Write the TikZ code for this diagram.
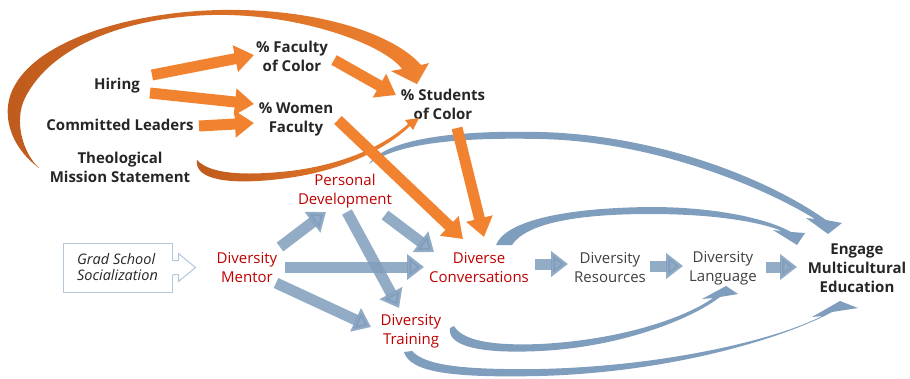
\documentclass[tikz,border=0pt]{standalone}
\usepackage{fontspec}
\setmainfont{Open Sans}
\usetikzlibrary{arrows.meta,calc}

\definecolor{orangearr}{RGB}{240,130,48}
\definecolor{orangedark}{RGB}{190,90,28}
\definecolor{bluearr}{RGB}{127,157,188}
\definecolor{redtext}{RGB}{192,0,0}
\definecolor{graytext}{RGB}{64,64,64}
\definecolor{darktext}{RGB}{38,38,38}
\definecolor{boxline}{RGB}{180,198,218}

\tikzset{
  lbl/.style={align=center, font=\fontsize{15}{19}\selectfont, inner sep=2pt},
  boldlbl/.style={lbl, font=\fontsize{15}{19}\selectfont\bfseries, text=darktext},
  redlbl/.style={lbl, text=redtext},
  graylbl/.style={lbl, text=graytext},
  gradbox/.style={draw=boxline, line width=1pt, align=left, text=darktext,
    font=\fontsize{14.5}{16}\selectfont\itshape, minimum width=109pt, minimum height=49pt},
  oarrow/.style={draw=orangearr, line width=11pt, -{Triangle[width=26pt,length=19pt]}},
  barrow/.style={draw=bluearr, line width=11pt, -{Triangle[width=25pt,length=17pt]}, opacity=.85},
}

\begin{document}
\begin{tikzpicture}[x=1pt,y=-1pt]
\useasboundingbox (0,0) rectangle (910,378);

% labels
\node[boldlbl] (hiring) at (117,86) {Hiring};
\node[boldlbl] (leaders) at (120,125) {Committed Leaders};
\node[boldlbl] (mission) at (120,167) {Theological\\Mission Statement};
\node[boldlbl] (facc) at (292,56) {\% Faculty\\of Color};
\node[boldlbl] (women) at (296,119) {\% Women\\Faculty};
\node[boldlbl] (students) at (443,104) {\% Students\\of Color};
\node[redlbl] (personal) at (345,191) {Personal\\Development};
\node[redlbl] (mentor) at (247,268) {Diversity\\Mentor};
\node[redlbl] (conv) at (479,268) {Diverse\\Conversations};
\node[redlbl] (training) at (411,331) {Diversity\\Training};
\node[graylbl] (resources) at (610,268) {Diversity\\Resources};
\node[graylbl] (language) at (723,268) {Diversity\\Language};
\node[boldlbl] (engage) at (857,268) {Engage\\Multicultural\\Education};
\node[gradbox] (grad) at (117.5,267.5) {Grad School\\Socialization};
\fill[white] ([xshift=-1pt,yshift=7pt]grad.east) rectangle ++(2,14);
\draw[boxline, line width=1pt] ([yshift=7pt]grad.east) -- ++(6,0) -- ++(0,-7) -- ++(17,14) -- ++(-17,14) -- ++(0,-7) -- ++(-6,0);

% curved blue arrows
\fill[bluearr] (369,164) .. controls (385,140) and (450,130) .. (540,132) .. controls (660,135) and (770,180) .. (826,220)
  -- (842,223) -- (828,234) -- (806,218) -- (815,219) .. controls (760,185) and (650,141) .. (540,139) .. controls (450,137) and (395,145) .. (369,164) -- cycle;
\fill[bluearr] (496,245) .. controls (505,222) and (560,208) .. (650,207) .. controls (720,207) and (770,220) .. (791,232)
  -- (805,233) -- (797,245) -- (773,230) -- (782,231) .. controls (760,222) and (715,214) .. (650,214) .. controls (570,214) and (525,225) .. (512,245) -- cycle;
\fill[bluearr] (450,328) .. controls (447,346) and (480,354) .. (540,351) .. controls (620,347) and (690,320) .. (720,297)
  -- (738,294) -- (726,286) -- (702,299) -- (713,298) .. controls (685,318) and (620,340) .. (540,344) .. controls (490,346) and (462,340) .. (454,326) -- cycle;
\fill[bluearr] (404,352) .. controls (410,372) and (450,378) .. (540,376) .. controls (680,372) and (790,335) .. (832,312)
  -- (858,308) -- (840,301) -- (812,317) -- (822,316) .. controls (780,338) and (670,366) .. (540,369) .. controls (460,370) and (425,365) .. (412,351) -- cycle;

% curved orange arrows
\shade[left color=orangedark, right color=orangearr] (197,160) .. controls (194,180) and (230,185) .. (280,179) .. controls (340,172) and (385,150) .. (410,126)
  -- (413,130) -- (419,118) -- (405,120) -- (408,124) .. controls (383,147) and (338,167) .. (280,172) .. controls (235,176) and (208,172) .. (197,160) -- cycle;
\shade[left color=orangedark, right color=orangearr] (39,168) .. controls (8,145) and (0,110) .. (15,85) .. controls (40,40) and (130,12) .. (220,10) .. controls (320,8) and (395,35) .. (421,65)
  -- (429,63) -- (417,84) -- (391,71) -- (402,69) .. controls (385,45) and (300,13) .. (212,15) .. controls (130,17) and (52,44) .. (25,98) .. controls (14,120) and (22,152) .. (39,168) -- cycle;

% straight arrows
\draw[oarrow] ($(hiring)+(35,-11)$) -- ($(facc)+(-38,-1)$);
\draw[oarrow] ($(hiring)+(33,7)$) -- ($(women)+(-42,-15)$);
\draw[oarrow] ($(leaders)+(79,1)$) -- ($(women)+(-42,4)$);
\draw[oarrow] ($(facc)+(42,4)$) -- ($(students)+(-47,-9)$);
\draw[oarrow] ($(women)+(42,1)$) -- ($(conv)+(-16,-29)$);
\draw[oarrow] ($(students)+(14,24)$) -- ($(conv)+(5,-31)$);

\draw[barrow] ($(mentor)+(33,-21)$) -- ($(personal)+(-19,21)$);
\draw[barrow] ($(mentor)+(38,-1)$) -- ($(conv)+(-55,-1)$);
\draw[barrow] ($(mentor)+(29,15)$) -- ($(training)+(-40,-4)$);
\draw[barrow] ($(personal)+(2,21)$) -- ($(training)+(-12,-23)$);
\draw[barrow] ($(personal)+(40,24)$) -- ($(conv)+(-45,-16)$);
\draw[barrow] ($(conv)+(56,-4)$) -- ($(resources)+(-42,-4)$);
\draw[barrow] ($(resources)+(40,-2)$) -- ($(language)+(-40,-2)$);
\draw[barrow] ($(language)+(43,-1)$) -- ($(engage)+(-60,-1)$);
\end{tikzpicture}
\end{document}
